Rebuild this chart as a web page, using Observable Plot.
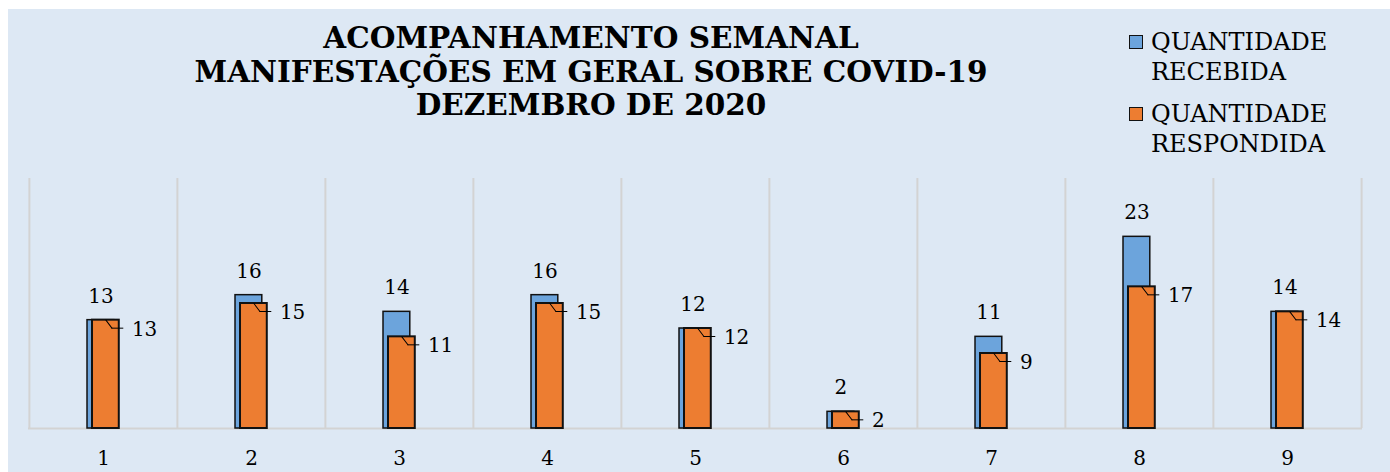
<!DOCTYPE html>
<html><head><meta charset="utf-8">
<script src="https://cdn.jsdelivr.net/npm/d3@7"></script>
<script src="https://cdn.jsdelivr.net/npm/@observablehq/plot@0.6"></script>
<style>
html,body{margin:0;padding:0;background:#fff;}
body{width:1390px;height:472px;overflow:hidden;position:relative;}
#panel{position:absolute;left:8px;top:9px;width:1382px;height:463px;background:#dde8f4;font-family:"DejaVu Serif",serif;color:#000;}
#chart{position:absolute;left:0;top:0;}
#title{position:absolute;left:0;top:12px;width:1166px;text-align:center;font-weight:bold;font-size:29.5px;line-height:33.5px;white-space:nowrap;}
#legend{position:absolute;left:1121px;top:18px;font-size:24px;line-height:30px;}
.item{position:relative;padding-left:22px;margin-bottom:12px;white-space:nowrap;}
.sw{position:absolute;left:0;top:8px;width:12px;height:12px;border:1.5px solid #111;}
</style></head>
<body>
<div id="panel">
  <div id="chart"></div>
  <div id="title"></div>
  <div id="legend"></div>
</div>
<script>
const titleLines = ["ACOMPANHAMENTO SEMANAL", "MANIFESTAÇÕES EM GERAL SOBRE COVID-19", "DEZEMBRO DE 2020"];
const weeks = [1, 2, 3, 4, 5, 6, 7, 8, 9];
const recebida = [13, 16, 14, 16, 12, 2, 11, 23, 14];
const respondida = [13, 15, 11, 15, 12, 2, 9, 17, 14];
const seriesNames = [["QUANTIDADE", "RECEBIDA"], ["QUANTIDADE", "RESPONDIDA"]];
const seriesColors = ["#6ca4dc", "#ed7d31"];

const W = 1382, H = 463, mL = 20, mR = 28;
const step = (W - mL - mR) / weeks.length;
const barW = 27;
const inset = (step - barW) / 2;
const offB = -2.6, offO = 2.4;

const recData = weeks.map((w, i) => ({week: w, value: recebida[i]}));
const resData = weeks.map((w, i) => ({week: w, value: respondida[i]}));

document.getElementById("title").innerHTML = titleLines.map(t => `<div>${t}</div>`).join("");
document.getElementById("legend").innerHTML = seriesNames.map((n, i) =>
  `<div class="item"><span class="sw" style="background:${seriesColors[i]}"></span>${n.join("<br>")}</div>`).join("");

const leaderShape = {draw(context, l) { context.moveTo(0, 0); context.lineTo(0, -l); }};

const chart = Plot.plot({
  width: W, height: H,
  marginLeft: mL, marginRight: mR, marginTop: 169, marginBottom: 44,
  style: {background: "transparent", fontFamily: "DejaVu Serif", fontSize: "20px", color: "#000", overflow: "visible"},
  x: {type: "band", domain: weeks, padding: 0, label: null},
  y: {domain: [0, 30], axis: null},
  marks: [
    Plot.ruleX(weeks, {x: d => d, dx: -step / 2, y1: 0, y2: 30, stroke: "#d3d3d3", strokeWidth: 2}),
    Plot.ruleX(weeks.slice(-1), {x: d => d, dx: step / 2, y1: 0, y2: 30, stroke: "#d3d3d3", strokeWidth: 2}),
    Plot.ruleY([0], {stroke: "#d3d3d3", strokeWidth: 2}),
    Plot.barY(recData, {x: "week", y: "value", fill: seriesColors[0], stroke: "#111", strokeWidth: 1.5, insetLeft: inset, insetRight: inset, dx: offB}),
    Plot.barY(resData, {x: "week", y: "value", fill: seriesColors[1], stroke: "#111", strokeWidth: 2, insetLeft: inset, insetRight: inset, dx: offO}),
    Plot.text(recData, {x: "week", y: "value", text: d => String(d.value), dy: -24, dx: offB, fontSize: 20}),
    Plot.vector(resData, {x: "week", y: "value", dx: offO, length: 10, rotate: 143, anchor: "start", shape: leaderShape, stroke: "#000", strokeWidth: 1}),
    Plot.tickY(resData, {x: "week", y: "value", dy: 8, insetLeft: step / 2 + offO + 6, insetRight: step / 2 - offO - 18, stroke: "#000", strokeWidth: 1}),
    Plot.text(resData, {x: "week", y: "value", text: d => String(d.value), textAnchor: "start", dx: offO + 26, dy: 9, fontSize: 20}),
    Plot.axisX({tickSize: 0, tickPadding: 22, fontSize: 20, label: null})
  ]
});
document.getElementById("chart").appendChild(chart);
</script>
</body></html>
